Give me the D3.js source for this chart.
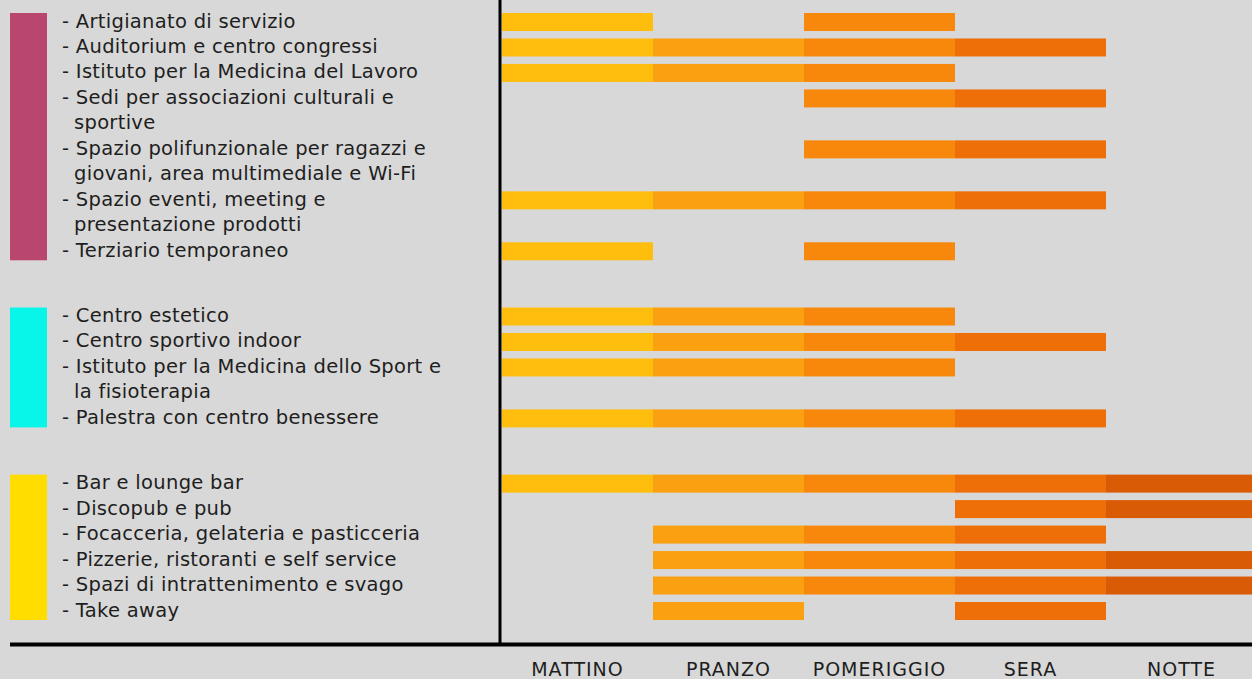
<!DOCTYPE html>
<html>
<head>
<meta charset="utf-8">
<script src="https://cdn.jsdelivr.net/npm/d3@7"></script>
<style>
  html, body { margin: 0; padding: 0; background: #d8d8d8; }
  svg { display: block; }
  .lbl { font-family: "DejaVu Sans", sans-serif; font-size: 19.5px; letter-spacing: 0.3px; fill: #1e1e1e; }
  .axis text { font-family: "DejaVu Sans", sans-serif; font-size: 19px; letter-spacing: 1px; fill: #1e1e1e; }
</style>
</head>
<body>
<svg id="chart" width="1252" height="679"></svg>
<script>
var periods = ['MATTINO', 'PRANZO', 'POMERIGGIO', 'SERA', 'NOTTE'];
var periodColors = ['#ffbd0e', '#fba010', '#f8880b', '#ee6e08', '#da5b06'];

var groups = ['servizi', 'sport', 'ristoro'];
var groupColors = ['#b8466e', '#08f5ea', '#ffdd00'];

// one entry per activity: text lines, open periods
var servizi = [
  {lines: ['- Artigianato di servizio'], on: ['MATTINO', 'POMERIGGIO']},
  {lines: ['- Auditorium e centro congressi'], on: ['MATTINO', 'PRANZO', 'POMERIGGIO', 'SERA']},
  {lines: ['- Istituto per la Medicina del Lavoro'], on: ['MATTINO', 'PRANZO', 'POMERIGGIO']},
  {lines: ['- Sedi per associazioni culturali e', 'sportive'], on: ['POMERIGGIO', 'SERA']},
  {lines: ['- Spazio polifunzionale per ragazzi e', 'giovani, area multimediale e Wi-Fi'], on: ['POMERIGGIO', 'SERA']},
  {lines: ['- Spazio eventi, meeting e', 'presentazione prodotti'], on: ['MATTINO', 'PRANZO', 'POMERIGGIO', 'SERA']},
  {lines: ['- Terziario temporaneo'], on: ['MATTINO', 'POMERIGGIO']}
];
var sport = [
  {lines: ['- Centro estetico'], on: ['MATTINO', 'PRANZO', 'POMERIGGIO']},
  {lines: ['- Centro sportivo indoor'], on: ['MATTINO', 'PRANZO', 'POMERIGGIO', 'SERA']},
  {lines: ['- Istituto per la Medicina dello Sport e', 'la fisioterapia'], on: ['MATTINO', 'PRANZO', 'POMERIGGIO']},
  {lines: ['- Palestra con centro benessere'], on: ['MATTINO', 'PRANZO', 'POMERIGGIO', 'SERA']}
];
var ristoro = [
  {lines: ['- Bar e lounge bar'], on: ['MATTINO', 'PRANZO', 'POMERIGGIO', 'SERA', 'NOTTE']},
  {lines: ['- Discopub e pub'], on: ['SERA', 'NOTTE']},
  {lines: ['- Focacceria, gelateria e pasticceria'], on: ['PRANZO', 'POMERIGGIO', 'SERA']},
  {lines: ['- Pizzerie, ristoranti e self service'], on: ['PRANZO', 'POMERIGGIO', 'SERA', 'NOTTE']},
  {lines: ['- Spazi di intrattenimento e svago'], on: ['PRANZO', 'POMERIGGIO', 'SERA', 'NOTTE']},
  {lines: ['- Take away'], on: ['PRANZO', 'SERA']}
];

var groupGap = 1.56; // extra blank lines between groups

var svg = d3.select('#chart');

// lay out activities on text lines
var rows = [], blocks = [], idx = 0;
[servizi, sport, ristoro].forEach(function(list, gi) {
  var start = idx;
  list.forEach(function(a) {
    rows.push({group: groups[gi], lines: a.lines, on: a.on, line: idx});
    idx += a.lines.length;
  });
  blocks.push({group: groups[gi], first: start, last: idx - 1});
  idx += groupGap;
});
var lastLine = rows[rows.length - 1].line;

var
  xScale = d3.scaleBand().domain(periods).range([502, 1257]),
  yScale = d3.scaleLinear().domain([0, lastLine]).range([22, 611]),
  pScale = d3.scaleOrdinal(periods, periodColors),
  gScale = d3.scaleOrdinal(groups, groupColors),
  barH = 18;

// group swatches
svg.selectAll('rect.swatch')
  .data(blocks)
  .enter().append('rect')
  .attr('class', 'swatch')
  .attr('x', 10)
  .attr('width', 37)
  .attr('y', d => yScale(d.first) - barH / 2)
  .attr('height', d => yScale(d.last) - yScale(d.first) + barH)
  .attr('fill', d => gScale(d.group));

// labels
var lbl = svg.selectAll('g.row')
  .data(rows)
  .enter().append('g')
  .attr('class', 'row');

lbl.selectAll('text')
  .data(d => d.lines.map((t, i) => ({t: t, line: d.line + i, cont: i > 0})))
  .enter().append('text')
  .attr('class', 'lbl')
  .attr('x', d => d.cont ? 74 : 62)
  .attr('y', d => yScale(d.line) + 5.5)
  .text(d => d.t);

// bars
lbl.selectAll('rect')
  .data(d => d.on.map(p => ({p: p, line: d.line})))
  .enter().append('rect')
  .attr('x', d => xScale(d.p))
  .attr('width', xScale.bandwidth())
  .attr('y', d => yScale(d.line) - barH / 2)
  .attr('height', barH)
  .attr('fill', d => pScale(d.p));

// frame lines
svg.append('line')
  .attr('x1', 500).attr('x2', 500)
  .attr('y1', 0).attr('y2', 645)
  .attr('stroke', '#000').attr('stroke-width', 3);

svg.append('line')
  .attr('x1', 10).attr('x2', 1252)
  .attr('y1', 644.5).attr('y2', 644.5)
  .attr('stroke', '#000').attr('stroke-width', 4);

// period labels
var xAxis = d3.axisBottom(xScale).tickSize(0).tickPadding(18);
svg.append('g')
  .attr('class', 'axis')
  .attr('transform', 'translate(0,645)')
  .call(xAxis)
  .call(g => g.select('.domain').remove());
</script>
</body>
</html>
